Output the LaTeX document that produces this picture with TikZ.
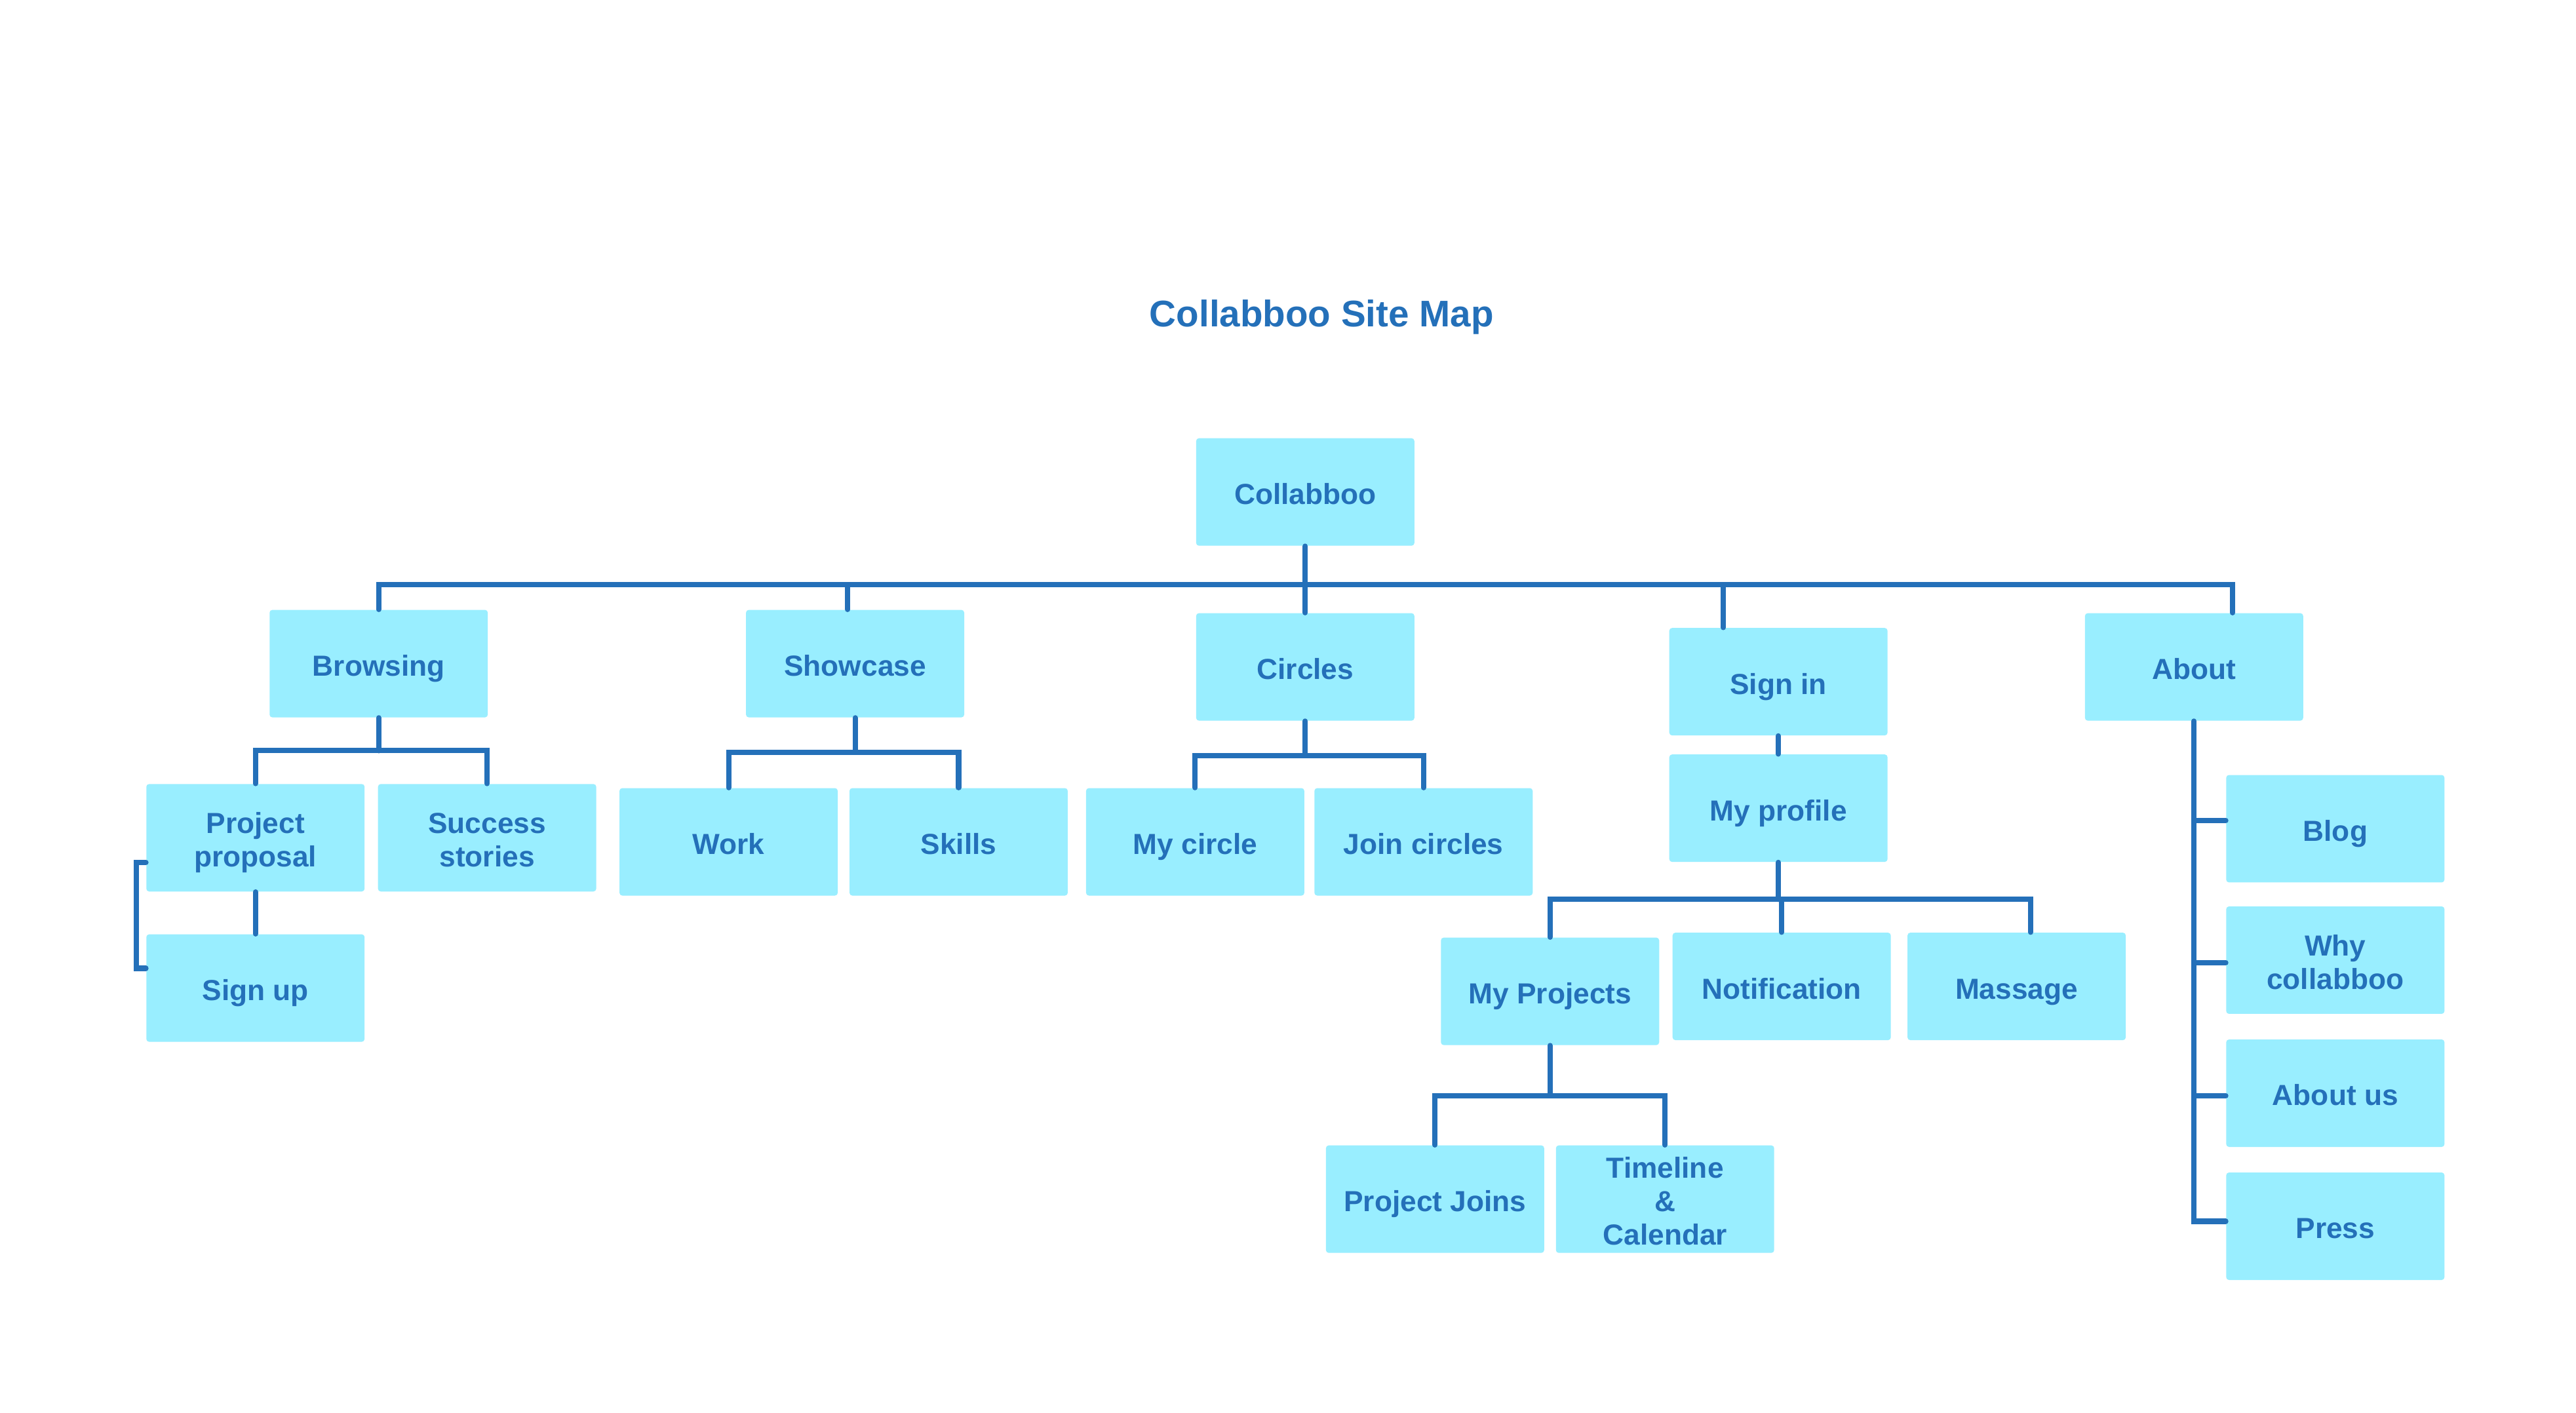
\documentclass[tikz,border=0pt]{standalone}
\usepackage{fontspec}
\setmainfont{Liberation Sans}
\usetikzlibrary{calc}
\definecolor{boxfill}{HTML}{99EEFF}
\definecolor{ink}{HTML}{2470B9}
\newcommand\liftline[1]{\rule{0pt}{#1}}
\begin{document}
\begin{tikzpicture}[x=0.025064cm,y=-0.025064cm,
  boxbase/.style={rectangle,rounded corners=1.2pt,fill=boxfill,text=ink,
    minimum width=3.33cm,minimum height=1.64cm,inner sep=0pt,align=center,
    font=\bfseries\fontsize{12.6}{14.6}\selectfont},
  box/.style={boxbase,text height=12.37pt,text depth=1.6pt},
  mbox/.style={boxbase},
  conn/.style={draw=ink,line width=2.3pt,line cap=round,line join=miter},
  titlestyle/.style={text=ink,font=\bfseries\fontsize{16.1}{19}\selectfont,inner sep=0pt,anchor=base}]
\useasboundingbox[fill=white] (0,0) rectangle (1568,860);

\node[titlestyle] (title) at (804.5,199) {Collabboo Site Map};

\coordinate (bus) at (794.5,356);
\coordinate (b1) at (0,457);
\coordinate (b2) at (0,458);
\coordinate (b3) at (0,460);
\coordinate (b4) at (0,547.5);
\coordinate (b5) at (0,667);

% boxes
\node[box] (root) at (794.5,299.5) {Collabboo};
\node[box] (browsing) at (230.5,404) {Browsing};
\node[box] (showcase) at (520.5,404) {Showcase};
\node[box] (circles) at (794.5,406) {Circles};
\node[box] (signin) at (1082.5,415) {Sign in};
\node[box] (about) at (1335.5,406) {About};
\node[mbox] (pp) at (155.5,510) {\liftline{13.4pt}Project\\proposal};
\node[mbox] (ss) at (296.5,510) {\liftline{10.9pt}Success\\stories};
\node[box] (work) at (443.5,512.5) {Work};
\node[box] (skills) at (583.5,512.5) {Skills};
\node[box] (mycircle) at (727.5,512.5) {My circle};
\node[box] (join) at (866.5,512.5) {Join circles};
\node[box] (myprofile) at (1082.5,492) {My profile};
\node[box] (signup) at (155.5,601.5) {Sign up};
\node[box] (myprojects) at (943.5,603.5) {My Projects};
\node[box] (notif) at (1084.5,600.5) {Notification};
\node[box] (massage) at (1227.5,600.5) {Massage};
\node[box] (pjoins) at (873.5,730) {Project Joins};
\node[mbox] (timeline) at (1013.5,730) {\liftline{10.8pt}Timeline\\\&\\Calendar};
\node[box] (blog) at (1421.5,504.5) {Blog};
\node[mbox] (why) at (1421.5,584.5) {\liftline{10.8pt}Why\\collabboo};
\node[box] (aboutus) at (1421.5,665.5) {About us};
\node[box] (press) at (1421.5,746.5) {Press};

% level 1
\draw[conn] (root.south) -- (circles.north);
\draw[conn] (browsing.north) -- (browsing.north |- bus) -- ($(about.north |- bus)+(23.5,0)$) -- ($(about.north)+(23.5,0)$);
\draw[conn] ($(showcase.north)+(-4.5,0)$) -- ($(showcase.north |- bus)+(-4.5,0)$);
\draw[conn] ($(signin.north)+(-33.5,0)$) -- ($(signin.north |- bus)+(-33.5,0)$);

% browsing
\draw[conn] (browsing.south) -- (browsing.south |- b1);
\draw[conn] (pp.north) -- (pp.north |- b1) -- (ss.north |- b1) -- (ss.north);
\draw[conn] (pp.south) -- (signup.north);
\draw[conn] ($(pp.west)+(0,15)$) -- ++(-6,0) |- ($(signup.west)+(0,-12)$);

% showcase
\draw[conn] (showcase.south) -- (showcase.south |- b2);
\draw[conn] (work.north) -- (work.north |- b2) -- (skills.north |- b2) -- (skills.north);

% circles
\draw[conn] (circles.south) -- (circles.south |- b3);
\draw[conn] (mycircle.north) -- (mycircle.north |- b3) -- (join.north |- b3) -- (join.north);

% sign in
\draw[conn] (signin.south) -- (myprofile.north);
\draw[conn] (myprofile.south) -- (myprofile.south |- b4);
\draw[conn] (myprojects.north) -- (myprojects.north |- b4) -- ($(massage.north |- b4)+(8.5,0)$) -- ($(massage.north)+(8.5,0)$);
\draw[conn] (notif.north) -- (notif.north |- b4);

% my projects
\draw[conn] (myprojects.south) -- (myprojects.south |- b5);
\draw[conn] (pjoins.north) -- (pjoins.north |- b5) -- (timeline.north |- b5) -- (timeline.north);

% about
\coordinate (av) at (1335.5,0);
\draw[conn] (about.south) -- ($(av |- press.west)+(0,-3)$) -- ($(press.west)+(0,-3)$);
\draw[conn] ($(av |- blog.west)+(0,-5)$) -- ($(blog.west)+(0,-5)$);
\draw[conn] ($(av |- why.west)+(0,1.5)$) -- ($(why.west)+(0,1.5)$);
\draw[conn] ($(av |- aboutus.west)+(0,1.5)$) -- ($(aboutus.west)+(0,1.5)$);
\end{tikzpicture}
\end{document}
